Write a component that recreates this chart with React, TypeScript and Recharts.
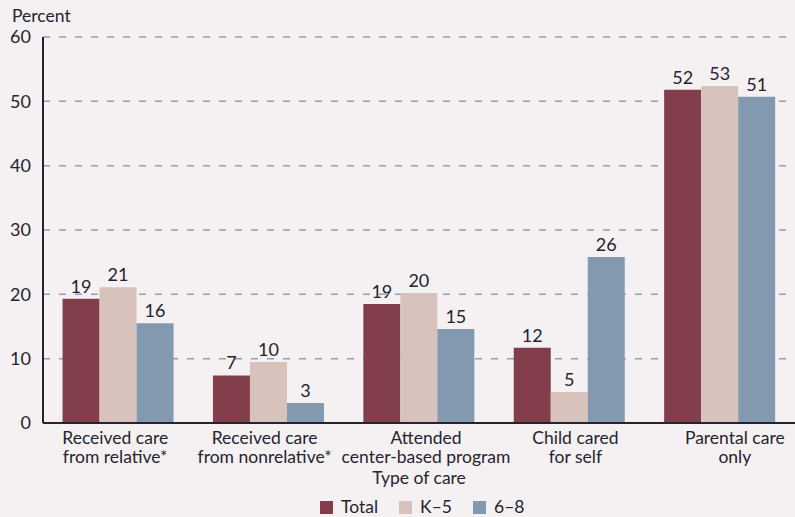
import { BarChart, Bar, XAxis, YAxis, CartesianGrid, LabelList } from 'recharts'

const BG = '#f5f1f3'
const INK = '#25232f'
const FONT = 'Lato, "Open Sans", sans-serif'

const categories = [
  'Received care\nfrom relative*',
  'Received care\nfrom nonrelative*',
  'Attended\ncenter-based program',
  'Child cared\nfor self',
  'Parental care\nonly',
]
// bar heights
const totalValues = [19.3, 7.4, 18.5, 11.7, 51.8]
const k5Values = [21.1, 9.5, 20.2, 4.8, 52.4]
const g68Values = [15.5, 3.1, 14.6, 25.8, 50.7]
// printed labels
const totalLabels = [19, 7, 19, 12, 52]
const k5Labels = [21, 10, 20, 5, 53]
const g68Labels = [16, 3, 15, 26, 51]
const yTicks = [0, 10, 20, 30, 40, 50, 60]

// the original nudges its category labels a little off the band centres
const TICK_SHIFT = [-3, -4, 7, 6, 15]

const series = [
  { key: 'total', name: 'Total', color: '#823e4b' },
  { key: 'k5', name: 'K–5', color: '#d8c2bc' },
  { key: 'g68', name: '6–8', color: '#8399b0' },
]

const data = categories.map((c, i) => ({
  name: c,
  total: totalValues[i],
  k5: k5Values[i],
  g68: g68Values[i],
  totalLabel: totalLabels[i],
  k5Label: k5Labels[i],
  g68Label: g68Labels[i],
}))

function CatTick({ x, y, payload, index }: { x?: number; y?: number; index?: number; payload?: { value: string } }) {
  const lines = String(payload?.value ?? '').split('\n')
  const tx = (x ?? 0) + (TICK_SHIFT[index ?? 0] ?? 0)
  return (
    <text x={tx} y={y} textAnchor="middle" fill={INK} fontSize={17.5} fontFamily={FONT}>
      {lines.map((l, i) => (
        <tspan key={i} x={tx} dy={i === 0 ? 12.5 : 19}>
          {l}
        </tspan>
      ))}
    </text>
  )
}

export default function App() {
  return (
    <div style={{ position: 'fixed', left: 0, top: 0, width: 795, height: 517, background: BG, fontFamily: FONT }}>
      <div style={{ position: 'absolute', left: 12, top: 5, fontSize: 17.5, color: INK }}>Percent</div>
      <BarChart
        width={795}
        height={517}
        data={data}
        margin={{ top: 37, right: 0, left: 0, bottom: 0 }}
        barCategoryGap="13%"
        barGap={0}
      >
        <CartesianGrid vertical={false} stroke="#8ea0b5" strokeDasharray="7 9" strokeWidth={1.5} />
        <XAxis
          dataKey="name"
          height={94}
          tick={<CatTick />}
          tickLine={false}
          axisLine={{ stroke: INK, strokeWidth: 2 }}
          interval={0}
          label={{ value: 'Type of care', position: 'insideTop', offset: 49, fill: INK, fontSize: 17.5, fontFamily: FONT }}
        />
        <YAxis
          width={43}
          domain={[0, 60]}
          ticks={yTicks}
          tickSize={0}
          tickMargin={12}
          tick={{ fill: INK, fontSize: 18, fontFamily: FONT }}
          axisLine={{ stroke: INK, strokeWidth: 2 }}
          tickLine={false}
        />
        {series.map((s) => (
          <Bar key={s.key} dataKey={s.key} name={s.name} fill={s.color} isAnimationActive={false}>
            <LabelList
              dataKey={`${s.key}Label`}
              position="top"
              offset={6}
              fill={INK}
              fontSize={18}
              fontFamily={FONT}
            />
          </Bar>
        ))}
      </BarChart>
      <div
        style={{
          position: 'absolute',
          top: 497,
          left: 320,
          display: 'flex',
          gap: 21,
          fontSize: 17.5,
          color: INK,
          lineHeight: '20px',
        }}
      >
        {series.map((s) => (
          <div key={s.key} style={{ display: 'flex', alignItems: 'center', gap: 8 }}>
            <span style={{ width: 13, height: 13, background: s.color, display: 'inline-block' }} />
            <span>{s.name}</span>
          </div>
        ))}
      </div>
    </div>
  )
}
